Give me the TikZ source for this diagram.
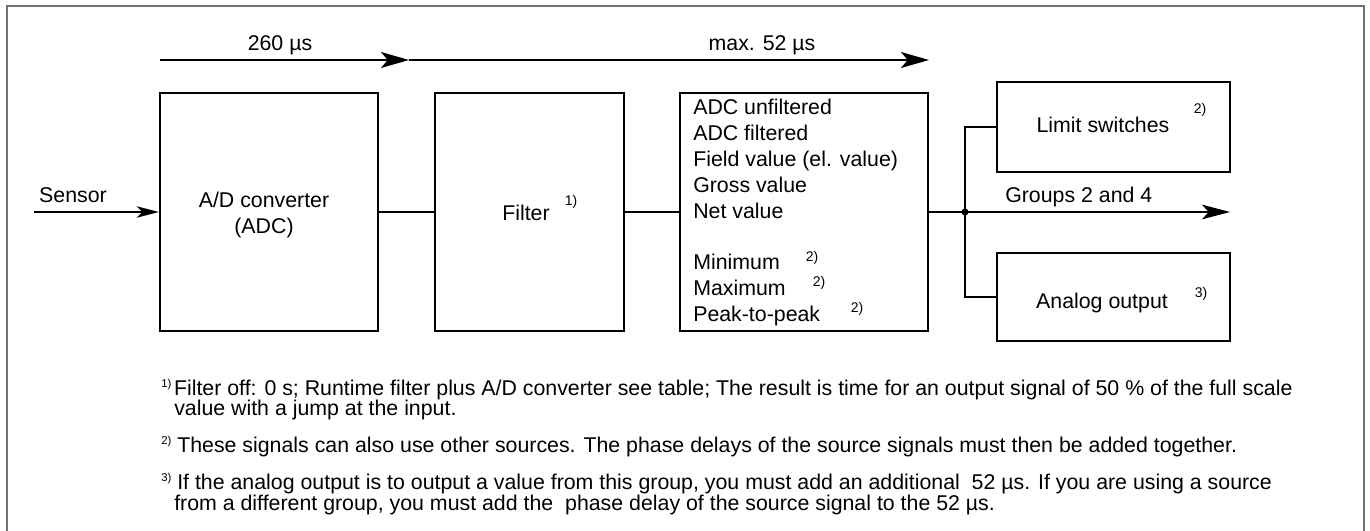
\documentclass[tikz,border=0pt]{standalone}
\usepackage{fontspec}
\setmainfont{Liberation Sans}
\usetikzlibrary{arrows.meta}
\definecolor{framegray}{HTML}{707070}
\tikzset{
  boxnode/.style={draw=black, line width=1.7pt, inner sep=0pt},
  lbl/.style={font=\fontsize{16}{19}\selectfont, inner sep=0pt, anchor=base},
  lblw/.style={lbl, anchor=base west},
  supnode/.style={font=\fontsize{10.5}{12}\selectfont, inner sep=0pt, anchor=center},
  wire/.style={line width=1.35pt},
  bigarrow/.style={wire, -{Stealth[length=21pt,width=12pt,inset=5pt]}},
  outarrow/.style={wire, -{Stealth[length=21pt,width=11pt,inset=5pt]}},
  smallarrow/.style={wire, -{Stealth[length=16.5pt,width=8.5pt,inset=4pt]}},
  frameline/.style={draw=framegray, line width=1.1pt}
}
\newcommand{\fnsup}[1]{\raisebox{5.4pt}{\fontsize{8.5}{9}\selectfont #1}}
\begin{document}
\begin{tikzpicture}[x=0.75pt,y=-0.75pt]
\useasboundingbox (0,0) rectangle (1370,531);
% outer frame
\draw[frameline] (7,531) -- (7,6) -- (1364,6) -- (1364,531);

% top timing arrows
\coordinate (ta0) at (160,60);
\coordinate (ta1) at (409,60);
\coordinate (ta2) at (929,60);
\draw[bigarrow] (ta0) -- (ta1);
\draw[bigarrow] (ta1) -- (ta2);
\node[lbl] (t260) at (280,51) {260 µs};
\node[lbl] (tmax) at (762,51) {max. 52 µs};

% boxes
\node[boxnode, minimum width=163.5pt, minimum height=178.5pt] (adc) at (269,212) {};
\node[boxnode, minimum width=141.75pt, minimum height=178.5pt] (flt) at (529.5,212) {};
\node[boxnode, minimum width=186pt, minimum height=178.5pt] (val) at (804,212) {};
\node[boxnode, minimum width=174.75pt, minimum height=67.5pt] (lim) at (1113.5,127) {};
\node[boxnode, minimum width=174.75pt, minimum height=66pt] (ana) at (1113.5,297) {};

% box texts
\node[lbl] (adc1) at (264,207) {A/D converter};
\node[lbl] (adc2) at (264,233) {(ADC)};
\node[lbl] (flttxt) at (526,220) {Filter};
\node[supnode] (fltsup) at (571,202) {1)};
\node[lblw] (v1) at (693,115) {ADC unfiltered};
\node[lblw] (v2) at (693,140.8) {ADC filtered};
\node[lblw] (v3) at (693,166.6) {Field value (el. value)};
\node[lblw] (v4) at (693,192.4) {Gross value};
\node[lblw] (v5) at (693,218.2) {Net value};
\node[lblw] (v6) at (693,269.8) {Minimum};
\node[lblw] (v7) at (693,295.6) {Maximum};
\node[lblw] (v8) at (693,321.4) {Peak-to-peak};
\node[supnode] (s6) at (812,258) {2)};
\node[supnode] (s7) at (819,283) {2)};
\node[supnode] (s8) at (857,309) {2)};
\node[lbl] (limtxt) at (1103,133) {Limit switches};
\node[supnode] (limsup) at (1200,110) {2)};
\node[lbl] (anatxt) at (1102,308) {Analog output};
\node[supnode] (anasup) at (1201,294) {3)};

% sensor input
\coordinate (sensorstart) at (34,212);
\node[lbl] (sensor) at (73,203) {Sensor};
\draw[smallarrow] (sensorstart) -- (adc.west);

% signal chain
\draw[wire] (adc.east) -- (flt.west);
\draw[wire] (flt.east) -- (val.west);
\coordinate (junc) at (965,212);
\coordinate (outend) at (1230,212);
\draw[wire] (val.east) -- (junc);
\draw[outarrow] (junc) -- (outend);
\draw[wire] (lim.west) -| (junc) |- (ana.west);
\node[circle, fill=black, inner sep=0pt, minimum size=5.3pt] (dot) at (junc) {};
\node[lblw] (groups) at (1005,203) {Groups 2 and 4};

% footnotes
\node[lblw] (fn1a) at (161,395) {\fnsup{1)}\kern2pt Filter off: 0 s; Runtime filter plus A/D converter see table; The result is time for an output signal of 50 \% of the full scale};
\node[lblw] (fn1b) at (174,415) {value with a jump at the input.};
\node[lblw] (fn2) at (161,452) {\fnsup{2)} These signals can also use other sources. The phase delays of the source signals must then be added together.};
\node[lblw] (fn3a) at (161,489) {\fnsup{3)} If the analog output is to output a value from this group, you must add an additional\ \ 52 µs. If you are using a source};
\node[lblw] (fn3b) at (174,510) {from a different group, you must add the\ \ phase delay of the source signal to the 52 µs.};
\end{tikzpicture}
\end{document}
